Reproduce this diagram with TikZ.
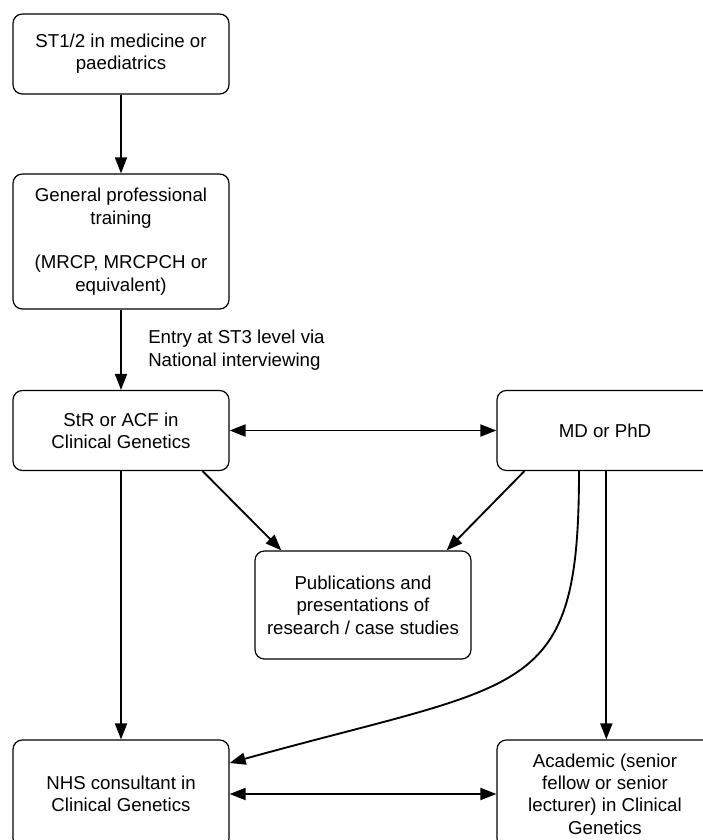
\documentclass[tikz,border=0pt]{standalone}
\usepackage{fontspec}
\setmainfont{Liberation Sans}
\usetikzlibrary{arrows.meta}

\begin{document}
\begin{tikzpicture}[x=0.75pt,y=0.75pt]
\tikzstyle{every node}+=[inner sep=0pt]
\tikzstyle{stage}=[draw=black, line width=0.9pt, rounded corners=7pt, minimum width=162pt, align=center, font=\fontsize{14}{16.75}\selectfont]
\tikzstyle{link}=[black, line width=1.4pt, -{Triangle[length=12pt,width=9pt]}]
\tikzstyle{twoway}=[black, line width=1.4pt, {Triangle[length=12pt,width=9pt]}-{Triangle[length=12pt,width=9pt]}]
\useasboundingbox (0,0) rectangle (703,-840);
\node [stage, minimum height=60pt] (st12) at (121,-54) {ST1/2 in medicine or\\paediatrics};
\node [stage, minimum height=101.25pt] (gpt) at (121,-241.5) {General professional\\training\\[16.75pt](MRCP, MRCPCH or\\equivalent)};
\node [stage, minimum height=60pt] (str) at (121,-430.5) {StR or ACF in\\Clinical Genetics};
\node [stage, minimum height=60pt] (mdphd) at (605,-430.5) {MD or PhD};
\node [stage, minimum height=81pt] (pubs) at (363,-605) {Publications and\\presentations of\\research / case studies};
\node [stage, minimum height=81pt] (nhs) at (121,-794) {NHS consultant in\\Clinical Genetics};
\node [stage, minimum height=81pt] (academic) at (605,-794) {Academic (senior\\fellow or senior\\lecturer) in Clinical\\Genetics};
\node [anchor=west, align=left, font=\fontsize{14}{16.75}\selectfont] (entry) at (148,-350) {Entry at ST3 level via\\National interviewing};
\draw [link] (st12) -- (gpt);
\draw [link] (gpt) -- (str);
\draw [twoway] (str) -- (mdphd);
\draw [link] (str) -- (nhs);
\draw [link] ([xshift=-20.25pt]str.south east) -- ([xshift=20.25pt]pubs.north west);
\draw [link] ([xshift=21pt]mdphd.south west) -- ([xshift=-18.75pt]pubs.north east);
\draw [link] ([xshift=-19.5pt]mdphd.south) .. controls (579,-700) and (529,-680) .. ([yshift=23.25pt]nhs.east);
\draw [link] ([xshift=1pt]mdphd.south) -- ([xshift=1pt]academic.north);
\draw [twoway] (nhs) -- (academic);
\end{tikzpicture}
\end{document}
